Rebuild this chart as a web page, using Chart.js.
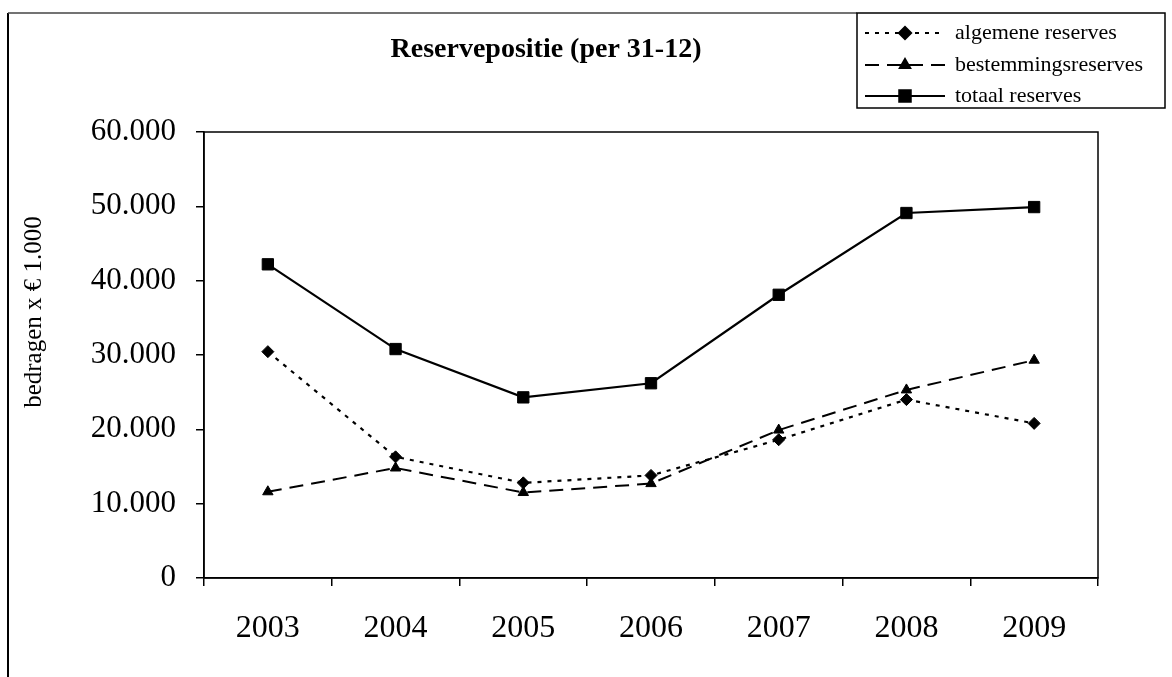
<!DOCTYPE html>
<html>
<head>
<meta charset="utf-8">
<title>Reservepositie</title>
<script src="https://cdn.jsdelivr.net/npm/chart.js@4.4.1/dist/chart.umd.min.js"></script>
<style>
    body { margin: 0; background: #fff; }
    #wrap { width: 1172px; height: 677px; position: relative; }
</style>
</head>
<body>
<div id="wrap"><canvas id="myChart"></canvas></div>
<script>
const jaren = ['2003', '2004', '2005', '2006', '2007', '2008', '2009'];
const algemeneReserves = [30450, 16300, 12800, 13800, 18600, 24000, 20800];
const bestemmingsReserves = [11600, 14800, 11500, 12700, 19900, 25300, 29300];
const totaalReserves = [42200, 30800, 24300, 26200, 38100, 49100, 49900];
const yTicks = [0, 10000, 20000, 30000, 40000, 50000, 60000];

const serif = "'Liberation Serif', 'Times New Roman', serif";

function puntjes(v) {
    // 60000 -> 60.000
    return String(v).replace(/\B(?=(\d{3})+(?!\d))/g, '.');
}

// frame, titel, as-titel, rand om het plotvlak en de legenda
const tekenExtra = {
    id: 'tekenExtra',
    afterDraw(chart) {
        const ctx = chart.ctx;
        const a = chart.chartArea;
        ctx.save();
        ctx.strokeStyle = '#000';
        ctx.lineWidth = 1.5;
        // plotvlak
        ctx.strokeRect(a.left, a.top, a.right - a.left, a.bottom - a.top);
        // buitenrand links en boven
        ctx.beginPath();
        ctx.lineWidth = 2;
        ctx.moveTo(8, 677);
        ctx.lineTo(8, 13);
        ctx.stroke();
        ctx.beginPath();
        ctx.lineWidth = 1.5;
        ctx.strokeStyle = '#444';
        ctx.moveTo(8, 13);
        ctx.lineTo(857, 13);
        ctx.stroke();
        ctx.strokeStyle = '#000';
        // titel
        ctx.fillStyle = '#000';
        ctx.font = "bold 28px " + serif;
        ctx.textAlign = 'center';
        ctx.textBaseline = 'middle';
        ctx.fillText('Reservepositie (per 31-12)', 546, 50);
        // y-as titel
        ctx.save();
        ctx.translate(34, 312);
        ctx.rotate(-Math.PI / 2);
        ctx.font = "25px " + serif;
        ctx.fillText('bedragen x € 1.000', 0, 0);
        ctx.restore();
        // legenda
        ctx.strokeRect(857, 13, 308, 95);
        ctx.font = "22px " + serif;
        ctx.textAlign = 'left';
        let rijY = [33, 65, 96];
        chart.data.datasets.forEach(function (ds, i) {
            let y = rijY[i];
            ctx.beginPath();
            ctx.setLineDash(ds.borderDash || []);
            ctx.lineWidth = ds.borderWidth;
            ctx.moveTo(865, y);
            ctx.lineTo(945, y);
            ctx.stroke();
            ctx.setLineDash([]);
            Chart.helpers.drawPoint(ctx, {
                pointStyle: ds.pointStyle,
                radius: ds.pointRadius,
                rotation: 0,
                borderWidth: 1
            }, 905, y);
            ctx.fillText(ds.label, 955, y);
        });
        ctx.restore();
    }
};

const data = {
    labels: jaren,
    datasets: [{
        label: 'algemene reserves',
        data: algemeneReserves,
        borderColor: '#000',
        backgroundColor: '#000',
        borderWidth: 2.2,
        borderDash: [4, 6],
        pointStyle: 'rectRot',
        pointRadius: 6,
        pointBorderWidth: 1
    }, {
        label: 'bestemmingsreserves',
        data: bestemmingsReserves,
        borderColor: '#000',
        backgroundColor: '#000',
        borderWidth: 2,
        borderDash: [14, 8],
        pointStyle: 'triangle',
        pointRadius: 6,
        pointBorderWidth: 1
    }, {
        label: 'totaal reserves',
        data: totaalReserves,
        borderColor: '#000',
        backgroundColor: '#000',
        borderWidth: 2.2,
        pointStyle: 'rect',
        pointRadius: 8,
        pointBorderWidth: 1
    }]
};

const config = {
    type: 'line',
    data: data,
    options: {
        responsive: true,
        maintainAspectRatio: false,
        animation: false,
        layout: { padding: { top: 132, right: 74, left: 0, bottom: 0 } },
        plugins: {
            legend: { display: false },
            title: { display: false },
            tooltip: { enabled: false }
        },
        scales: {
            x: {
                offset: true,
                afterFit: function (s) { s.height = 99; },
                grid: {
                    offset: true,
                    drawOnChartArea: false,
                    drawTicks: true,
                    tickLength: 8,
                    color: '#000',
                    lineWidth: 1.5
                },
                border: { display: true, color: '#000', width: 1.5 },
                ticks: {
                    color: '#000',
                    padding: 23,
                    font: { family: serif, size: 32 }
                }
            },
            y: {
                min: 0,
                max: 60000,
                afterFit: function (s) { s.width = 204; },
                afterBuildTicks: function (s) {
                    s.ticks = yTicks.map(function (v) { return { value: v }; });
                },
                grid: {
                    drawOnChartArea: false,
                    drawTicks: true,
                    tickLength: 8,
                    color: '#000',
                    lineWidth: 1.5
                },
                border: { display: true, color: '#000', width: 1.5 },
                ticks: {
                    color: '#000',
                    padding: 20,
                    font: { family: serif, size: 31 },
                    callback: function (v) { return puntjes(v); }
                }
            }
        }
    },
    plugins: [tekenExtra]
};

const myChart = new Chart(document.getElementById('myChart'), config);
console.log('chart klaar');
</script>
</body>
</html>
